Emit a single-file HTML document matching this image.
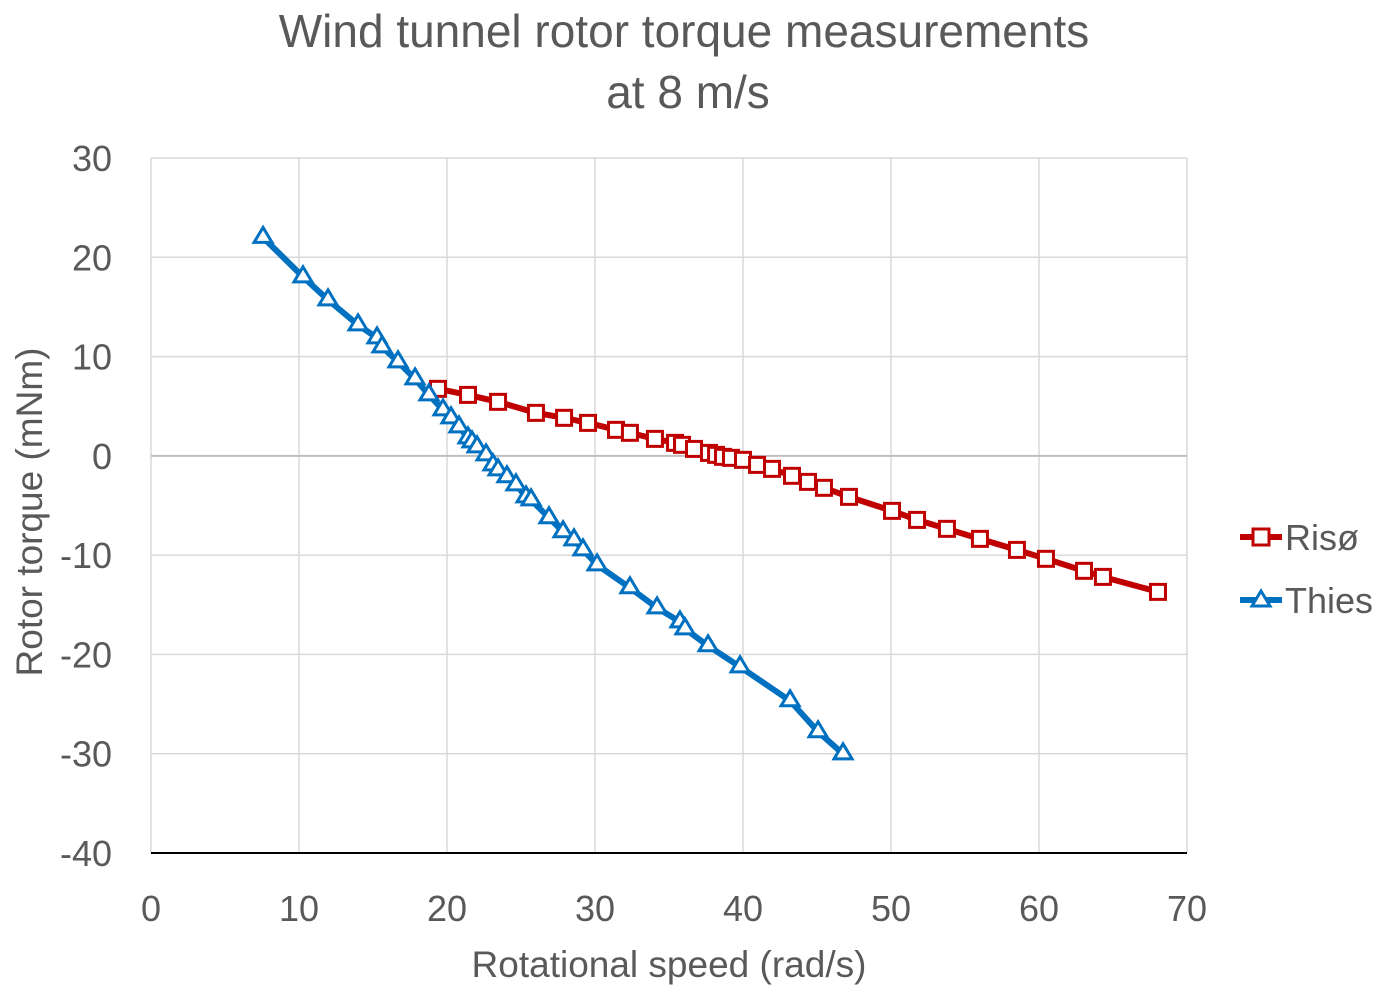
<!DOCTYPE html>
<html><head><meta charset="utf-8"><style>
html,body{margin:0;padding:0;background:#fff;}
svg{display:block;font-family:"Liberation Sans",sans-serif;}
</style></head><body>
<svg id="chart" width="1384" height="996">
<text x="684" y="47" font-size="46" fill="#595959" text-anchor="middle">Wind tunnel rotor torque measurements</text>
<text x="688" y="108" font-size="46" fill="#595959" text-anchor="middle">at 8 m/s</text>
<g id="grid"></g><g id="axes"></g><g id="series"></g>
<text x="669" y="977" font-size="37" fill="#595959" text-anchor="middle">Rotational speed (rad/s)</text>
<text transform="translate(42,512) rotate(-90)" font-size="37" fill="#595959" text-anchor="middle">Rotor torque (mNm)</text>
<g>
<g>
<line x1="1240" y1="537" x2="1282" y2="537" stroke="#C00000" stroke-width="6"/>
<rect x="1253" y="529" width="16" height="16" fill="#fff" stroke="#C00000" stroke-width="3"/>
<text x="1285" y="550" font-size="36" fill="#595959">Risø</text></g>
<g>
<line x1="1240" y1="600" x2="1282" y2="600" stroke="#0070C0" stroke-width="6"/>
<path d="M1261,591 L1270,606 L1252,606 Z" fill="#fff" stroke="#0070C0" stroke-width="3"/>
<text x="1285" y="613" font-size="36" fill="#595959">Thies</text></g>
</g>
</svg>
<script>
const xTicks=[0,10,20,30,40,50,60,70];
const yTicks=[30,20,10,0,-10,-20,-30,-40];
const risoX=[19.39,21.42,23.45,26.01,27.91,29.53,31.42,32.36,34.05,35.41,35.88,36.69,37.70,38.18,38.65,39.19,40.0,40.95,41.96,43.31,44.39,45.47,47.16,50.07,51.76,53.78,56.01,58.51,60.47,63.04,64.32,68.04];
const risoY=[6.75,6.14,5.44,4.33,3.83,3.32,2.62,2.32,1.71,1.31,1.11,0.70,0.30,0.10,-0.10,-0.20,-0.40,-0.91,-1.31,-2.01,-2.62,-3.22,-4.13,-5.54,-6.45,-7.35,-8.36,-9.47,-10.37,-11.58,-12.19,-13.70];
const thiesX=[7.57,10.27,11.96,13.99,15.27,15.61,16.69,17.84,18.78,19.73,20.27,20.81,21.42,21.69,22.03,22.64,23.11,23.45,24.05,24.66,25.34,25.68,26.89,27.84,28.58,29.19,30.14,32.36,34.19,35.74,36.08,37.64,39.80,43.18,45.07,46.76];
const thiesY=[22.0,18.03,15.71,13.19,11.88,10.98,9.47,7.75,6.14,4.63,3.83,2.92,1.81,1.41,0.91,0.10,-0.91,-1.41,-2.11,-2.92,-4.13,-4.43,-6.24,-7.65,-8.46,-9.47,-10.98,-13.29,-15.31,-16.72,-17.42,-19.13,-21.25,-24.67,-27.79,-30.01];
const NS='http://www.w3.org/2000/svg';
const L=151,R=1187,T=158,B=853;
const sx=v=>L+(v-0)/(70-0)*(R-L);
const sy=v=>T+(30-v)/(30-(-40))*(B-T);
function mk(tag,attrs,parent){const e=document.createElementNS(NS,tag);for(const k in attrs)e.setAttribute(k,attrs[k]);parent.appendChild(e);return e;}
const grid=document.getElementById('grid'),axes=document.getElementById('axes'),ser=document.getElementById('series');
xTicks.forEach(t=>{
 const g=mk('line',{x1:sx(t),x2:sx(t),y1:T,y2:B,stroke:'#d9d9d9','stroke-width':1.5},grid);
 
 
 const tx=mk('text',{x:sx(t),y:B+68,'font-size':36,fill:'#595959','text-anchor':'middle'},axes);
 tx.textContent=t;
 
 
});
yTicks.forEach(t=>{
 const g=mk('line',{x1:L,x2:R,y1:sy(t),y2:sy(t),stroke:t===0?'#bfbfbf':'#d9d9d9','stroke-width':t===0?2:1.5},grid);
 
 
 const tx=mk('text',{x:L-39,y:sy(t)+13,'font-size':36,fill:'#595959','text-anchor':'end'},axes);
 tx.textContent=t;
 
 
});
const xa=mk('line',{x1:L,x2:R,y1:B,y2:B,stroke:'#000','stroke-width':2},axes);


function drawSeries(xs,ys,color,shape,name){
 const pts=xs.map((x,i)=>sx(x)+','+sy(ys[i])).join(' ');
 const pl=mk('polyline',{points:pts,fill:'none',stroke:color,'stroke-width':6,'stroke-linejoin':'round'},ser);
 
 
 xs.forEach((x,i)=>{
  const cx=sx(x),cy=sy(ys[i]);let m;
  if(shape==='square') m=mk('rect',{x:cx-7.5,y:cy-7.5,width:15,height:15,fill:'#fff',stroke:color,'stroke-width':3},ser);
  else m=mk('path',{d:`M${cx},${cy-10} L${cx+9},${cy+5} L${cx-9},${cy+5} Z`,fill:'#fff',stroke:color,'stroke-width':3},ser);
  
  
 });
}
drawSeries(risoX,risoY,'#C00000','square','riso');
drawSeries(thiesX,thiesY,'#0070C0','triangle','thies');
</script>
</body></html>
